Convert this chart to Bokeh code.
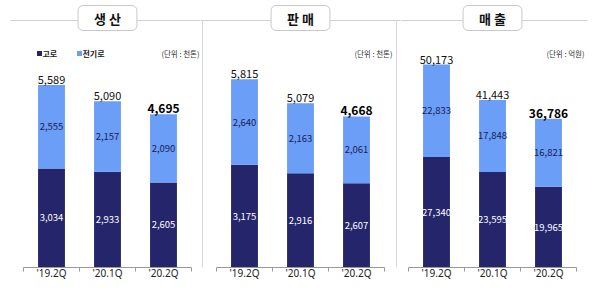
from bokeh.plotting import figure
from bokeh.layouts import row
from bokeh.models import Range1d, FixedTicker, Label, Arrow
from bokeh.core.properties import value
from bokeh.embed import file_html
from bokeh.resources import INLINE

# ---------------- data ----------------
quarters = ["'19.2Q", "'20.1Q", "'20.2Q"]
prod_blast = [3034, 2933, 2605]
prod_electric = [2555, 2157, 2090]
prod_total = [5589, 5090, 4695]
sales_blast = [3175, 2916, 2607]
sales_electric = [2640, 2163, 2061]
sales_total = [5815, 5079, 4668]
rev_blast = [27340, 23595, 19965]
rev_electric = [22833, 17848, 16821]
rev_total = [50173, 41443, 36786]
titles = ["생 산", "판 매", "매 출"]
units = ["(단위 : 천톤)", "(단위 : 천톤)", "(단위 : 억원)"]
legend_labels = ["고로", "전기로"]

# ---------------- style ----------------
FONT = "Noto Sans CJK KR"
DARK = "#25256c"
LIGHT = "#6a9ef7"
H = 295
W = 200
BOTTOM = 28
FRAME_H = H - BOTTOM
STEP = 56.0  # px per category


def make_panel(idx, blast, elec, total, y_end, left_px, line_from, line_to, legend=False, separators=False):
    x0 = -left_px / STEP
    x1 = (W - left_px) / STEP
    p = figure(width=W, height=H, output_backend="svg", toolbar_location=None,
               x_range=Range1d(x0, x1), y_range=Range1d(0, y_end),
               min_border_left=0, min_border_right=0, min_border_top=0,
               min_border_bottom=BOTTOM)
    p.outline_line_color = None
    p.grid.visible = False
    p.yaxis.visible = False
    p.background_fill_color = "white"
    p.border_fill_color = "white"

    def px(x):  # figure pixel -> data x
        return x0 + x / STEP

    def py(y):  # figure pixel -> data y
        return y_end * (FRAME_H - y) / FRAME_H

    xs = [i + 0.5 for i in range(len(quarters))]
    tops = [b + e for b, e in zip(blast, elec)]
    p.vbar(x=xs, bottom=0, top=blast, width=0.48, fill_color=DARK, line_color=None)
    p.vbar(x=xs, bottom=blast, top=tops, width=0.48, fill_color=LIGHT, line_color=None)

    p.text(x=xs, y=[b / 2 for b in blast], text=[f"{v:,}" for v in blast],
           text_font=value(FONT), text_font_size="9.5px", text_color="white",
           text_align="center", text_baseline="middle")
    p.text(x=xs, y=[b + e / 2 for b, e in zip(blast, elec)], text=[f"{v:,}" for v in elec],
           text_font=value(FONT), text_font_size="9.5px", text_color="#1c1c55",
           text_align="center", text_baseline="middle")
    p.text(x=xs[:-1], y=tops[:-1], text=[f"{v:,}" for v in total[:-1]],
           text_font=value(FONT), text_font_size="11px", text_color="#111111",
           text_align="center", text_baseline="bottom", y_offset=-1)
    p.text(x=xs[-1:], y=tops[-1:], text=[f"{v:,}" for v in total[-1:]],
           text_font=value(FONT), text_font_size="12px", text_font_style="bold",
           text_color="#000000", text_align="center", text_baseline="bottom", y_offset=-1)

    # axis
    ax = p.xaxis[0]
    ax.bounds = (0, 3)
    ax.ticker = FixedTicker(ticks=xs, minor_ticks=[0, 1, 2, 3])
    ax.major_label_overrides = {x: q for x, q in zip(xs, quarters)}
    ax.major_tick_out = 0
    ax.major_tick_in = 0
    ax.minor_tick_out = 4
    ax.minor_tick_in = 0
    ax.minor_tick_line_color = "#999999"
    ax.axis_line_color = "#999999"
    ax.major_label_text_font = "Noto Sans"
    ax.major_label_text_font_size = "10px"
    ax.major_label_text_color = "#222222"
    ax.major_label_standoff = -6

    # header line
    p.add_layout(Arrow(x_start=px(line_from), y_start=py(20), x_end=px(line_to), y_end=py(20),
                       end=None, line_color="#d0d0d0", line_width=1))
    if separators:
        for sx in (2, 196):
            p.add_layout(Arrow(x_start=px(sx), y_start=py(20), x_end=px(sx), y_end=py(290),
                               end=None, line_color="#d6d6d6", line_width=1))

    # title box (shadow + box)
    pad = dict(left=16, right=16, top=3, bottom=3)
    p.add_layout(Label(x=1.5, y=py(17.5), text=titles[idx], text_alpha=0.0,
                       text_font=FONT, text_font_size="13px", text_font_style="bold",
                       text_align="center", text_baseline="middle",
                       background_fill_color="#9a9a9a", background_fill_alpha=0.6,
                       border_radius=5, padding=pad, x_offset=1.5, y_offset=-2))
    p.add_layout(Label(x=1.5, y=py(17.5), text=titles[idx], text_color="#111111",
                       text_font=FONT, text_font_size="13px", text_font_style="bold",
                       text_align="center", text_baseline="middle",
                       background_fill_color="white", border_line_color="#c8c8c8",
                       border_radius=5, padding=pad))

    # unit text
    p.text(x=[3 + 8 / STEP], y=[py(53)], text=[units[idx]], text_font=value(FONT),
           text_font_size="7.5px", text_color="#333333", text_align="right", text_baseline="middle")

    if legend:
        p.scatter(x=[px(39), px(79)], y=[py(53), py(53)], marker="square", size=5,
                  fill_color=[DARK, LIGHT], line_color=None)
        p.text(x=[px(42), px(82)], y=[py(53), py(53)], text=legend_labels, text_font=value(FONT),
               text_font_size="8px", text_font_style="bold", text_color="#222222",
               text_align="left", text_baseline="middle")
    return p


p1 = make_panel(0, prod_blast, prod_electric, prod_total, 8177, 23, 10, 200, legend=True)
p2 = make_panel(1, sales_blast, sales_electric, sales_total, 8251, 16, 0, 200, separators=True)
p3 = make_panel(2, rev_blast, rev_electric, rev_total, 66020, 8, 0, 187)

layout = row(p1, p2, p3, spacing=0)
open("out.html", "w").write(file_html(layout, INLINE))
